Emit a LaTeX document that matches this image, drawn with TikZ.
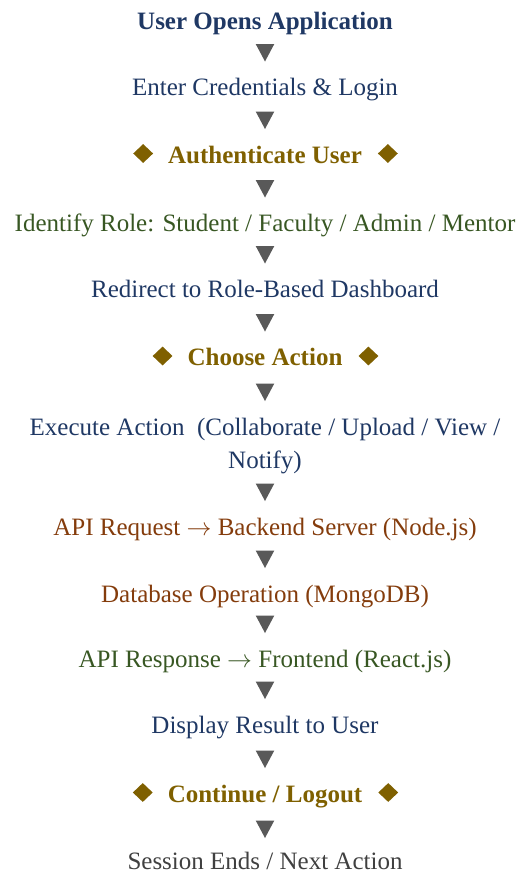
\documentclass[tikz,border=0pt]{standalone}
\usepackage{fontspec}
\setmainfont{Liberation Serif}
\usetikzlibrary{shapes.geometric,calc}
\definecolor{cblue}{HTML}{1F3864}
\definecolor{cgreen}{HTML}{385723}
\definecolor{cbrown}{HTML}{843C0C}
\definecolor{cgold}{HTML}{7F6000}
\definecolor{cgray}{HTML}{404040}
\definecolor{carrow}{HTML}{595959}
\newcommand{\rarr}{\ensuremath{\rightarrow}}
\begin{document}
\begin{tikzpicture}[x=1pt,y=-1pt,
  txt/.style={inner sep=0pt,outer sep=0pt,anchor=base,font=\fontsize{25pt}{33.5pt}\selectfont},
  bluestep/.style={txt,text=cblue},
  greenstep/.style={txt,text=cgreen},
  brownstep/.style={txt,text=cbrown},
  graystep/.style={txt,text=cgray},
  goldstep/.style={txt,text=cgold,font=\fontsize{25pt}{33.5pt}\selectfont\bfseries},
  titlestep/.style={txt,text=cblue,font=\fontsize{25pt}{33.5pt}\selectfont\bfseries},
  dia/.style={diamond,fill=cgold,draw=none,inner sep=0pt,minimum width=20pt,minimum height=19pt},
  tri/.style={fill=carrow,draw=none}]
\useasboundingbox (0,0) rectangle (516,873);

\node[titlestep] (n1) at (265,29.5) {User Opens Application};
\node[bluestep] (n2) at (265,95.5) {Enter Credentials \& Login};
\node[goldstep] (n3) at (265,163) {Authenticate User};
\node[greenstep] (n4) at (265,231.5) {Identify Role: Student / Faculty / Admin / Mentor};
\node[bluestep] (n5) at (265,297.5) {Redirect to Role-Based Dashboard};
\node[goldstep] (n6) at (265,365.5) {Choose Action};
\node[bluestep,text width=490pt,align=flush center] (n7) at (265,435) {Execute Action\ \ (Collaborate / Upload / View /\\Notify)};
\node[brownstep] (n8) at (265,535) {API Request \rarr{} Backend Server (Node.js)};
\node[brownstep] (n9) at (265,602) {Database Operation (MongoDB)};
\node[greenstep] (n10) at (265,667) {API Response \rarr{} Frontend (React.js)};
\node[bluestep] (n11) at (265,733) {Display Result to User};
\node[goldstep] (n12) at (265,802) {Continue / Logout};
\node[graystep] (n13) at (265,869.5) {Session Ends / Next Action};

% diamonds
\foreach \n in {n3,n6,n12}{
  \node[dia] (\n l) at ($(\n.base west)+(-25,-9.5)$) {};
  \node[dia] (\n r) at ($(\n.base east)+(26,-9.5)$) {};
}

% down-pointing arrow markers
\foreach \n/\off in {n2/34,n3/34,n4/34,n5/34,n6/34,n7/34,n8/34,n9/34,n10/34,n11/34,n12/34,n13/31.5}{
  \coordinate (a\n) at ($(\n.base)+(0,-\off)$);
  \fill[tri] ($(a\n)+(-9.3,-17.5)$) -- ($(a\n)+(9.3,-17.5)$) -- (a\n) -- cycle;
}
\end{tikzpicture}
\end{document}
